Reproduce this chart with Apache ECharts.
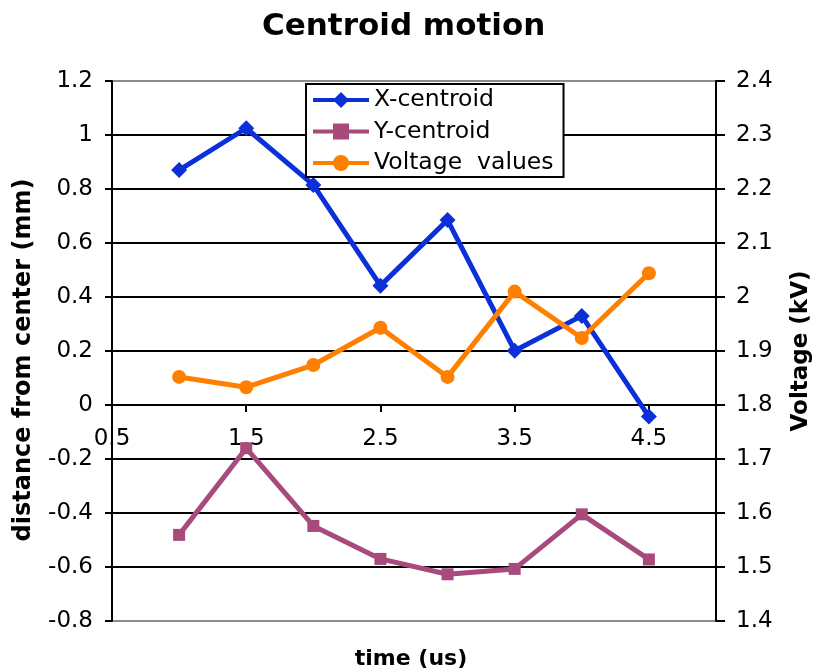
<!DOCTYPE html>
<html>
<head>
<meta charset="utf-8">
<title>Centroid motion</title>
<script src="https://cdn.jsdelivr.net/npm/echarts@6/dist/echarts.min.js"></script>
<style>
  html, body { margin: 0; padding: 0; background: #ffffff; }
  #chart { width: 816px; height: 672px; }
</style>
</head>
<body>
<div id="chart"></div>
<script>
// Sample times (us)
const times = [1, 1.5, 2, 2.5, 3, 3.5, 4, 4.5];
// Beam centroid offsets from center (mm)
const xCentroid = [0.87, 1.025, 0.815, 0.442, 0.685, 0.201, 0.330, -0.043];
const yCentroid = [-0.481, -0.160, -0.448, -0.570, -0.627, -0.607, -0.405, -0.572];
// Applied voltage (kV)
const voltage = [1.852, 1.833, 1.874, 1.943, 1.852, 2.010, 1.924, 2.044];
// Labelled positions on the time axis
const timeLabels = [0.5, 1.5, 2.5, 3.5, 4.5];
const timeTicks = [1.5, 2.5, 3.5, 4.5];
const seriesNames = ['X-centroid', 'Y-centroid', 'Voltage  values'];

const FONT = 'DejaVu Sans, Verdana, sans-serif';
const pairs = (vals) => times.map((t, i) => [t, vals[i]]);

// Plot frame and distance scale
const GRID_TOP = 81, GRID_BOTTOM = 51, CHART_H = 672;
const Y_MIN = -0.8, Y_MAX = 1.2;
const plotH = CHART_H - GRID_TOP - GRID_BOTTOM;
// The time axis crosses the distance axis at 0: shift it up from the bottom edge
const zeroShift = -plotH * (0 - Y_MIN) / (Y_MAX - Y_MIN);

// Frame lines top and bottom are grey, inner grid lines black
const gridColors = ['#8c8c8c', '#000', '#000', '#000', '#000', '#000', '#000', '#000', '#000', '#000', '#8c8c8c'];

const chart = echarts.init(document.getElementById('chart'), null, { renderer: 'canvas' });

chart.setOption({
  animation: false,
  backgroundColor: '#ffffff',
  textStyle: { fontFamily: FONT },
  title: {
    text: 'Centroid motion',
    left: 257,
    top: 6,
    textStyle: { fontFamily: FONT, fontSize: 31, fontWeight: 'bold', color: '#000' }
  },
  legend: {
    orient: 'vertical',
    left: 306,
    top: 84,
    data: seriesNames,
    itemWidth: 56,
    itemHeight: 20,
    itemGap: 7.5,
    padding: [4, 10, 2, 5],
    backgroundColor: '#ffffff',
    borderColor: '#000',
    borderWidth: 2,
    borderRadius: 0,
    lineStyle: { width: 4 },
    textStyle: { fontFamily: FONT, fontSize: 23.5, color: '#000', lineHeight: 24 }
  },
  grid: {
    left: 112,
    right: 100,
    top: GRID_TOP,
    bottom: GRID_BOTTOM,
    containLabel: false,
    outerBoundsMode: 'none'
  },
  xAxis: {
    type: 'value',
    min: 0.5,
    max: 5,
    position: 'bottom',
    offset: zeroShift,
    name: 'time (us)',
    nameLocation: 'middle',
    nameGap: 243,
    nameTextStyle: { fontFamily: FONT, fontSize: 22, fontWeight: 'bold', color: '#000', padding: [0, 6, 0, 0] },
    axisLine: { onZero: false, lineStyle: { color: '#000', width: 2 } },
    axisTick: { show: true, inside: false, length: 7, customValues: timeTicks, lineStyle: { color: '#000', width: 2 } },
    axisLabel: {
      customValues: timeLabels,
      margin: 23,
      color: '#000',
      fontFamily: FONT,
      fontSize: 23
    },
    splitLine: { show: false }
  },
  yAxis: [
    {
      type: 'value',
      min: Y_MIN,
      max: Y_MAX,
      interval: 0.2,
      position: 'left',
      name: 'distance from center (mm)',
      nameLocation: 'middle',
      nameGap: 76,
      nameRotate: 90,
      nameTextStyle: { fontFamily: FONT, fontSize: 24, fontWeight: 'bold', color: '#000', padding: [0, 18, 0, 0] },
      axisLine: { show: true, onZero: false, lineStyle: { color: '#000', width: 2 } },
      axisTick: { show: true, inside: false, length: 7, lineStyle: { color: '#000', width: 2 } },
      axisLabel: { margin: 19, color: '#000', fontFamily: FONT, fontSize: 23 },
      splitLine: { show: true, lineStyle: { color: gridColors, width: 2 } }
    },
    {
      type: 'value',
      min: 1.4,
      max: 2.4,
      interval: 0.1,
      position: 'right',
      name: 'Voltage (kV)',
      nameLocation: 'middle',
      nameGap: 74,
      nameRotate: 90,
      nameTextStyle: { fontFamily: FONT, fontSize: 23, fontWeight: 'bold', color: '#000' },
      axisLine: { show: true, onZero: false, lineStyle: { color: '#000', width: 2 } },
      axisTick: { show: true, inside: false, length: 9, lineStyle: { color: '#000', width: 2 } },
      axisLabel: { margin: 20, color: '#000', fontFamily: FONT, fontSize: 23 },
      splitLine: { show: false }
    }
  ],
  series: [
    {
      name: seriesNames[0],
      type: 'line',
      yAxisIndex: 0,
      data: pairs(xCentroid),
      symbol: 'diamond',
      symbolSize: 16,
      showAllSymbol: true,
      lineStyle: { color: '#0b30d8', width: 5 },
      itemStyle: { color: '#0b30d8' },
      z: 2
    },
    {
      name: seriesNames[1],
      type: 'line',
      yAxisIndex: 0,
      data: pairs(yCentroid),
      symbol: 'rect',
      symbolSize: 12,
      showAllSymbol: true,
      lineStyle: { color: '#a84a7c', width: 5 },
      itemStyle: { color: '#a84a7c' },
      z: 2
    },
    {
      name: seriesNames[2],
      type: 'line',
      yAxisIndex: 1,
      data: pairs(voltage),
      symbol: 'circle',
      symbolSize: 14,
      showAllSymbol: true,
      lineStyle: { color: '#ff8000', width: 5 },
      itemStyle: { color: '#ff8000' },
      z: 2
    }
  ]
});
</script>
</body>
</html>
